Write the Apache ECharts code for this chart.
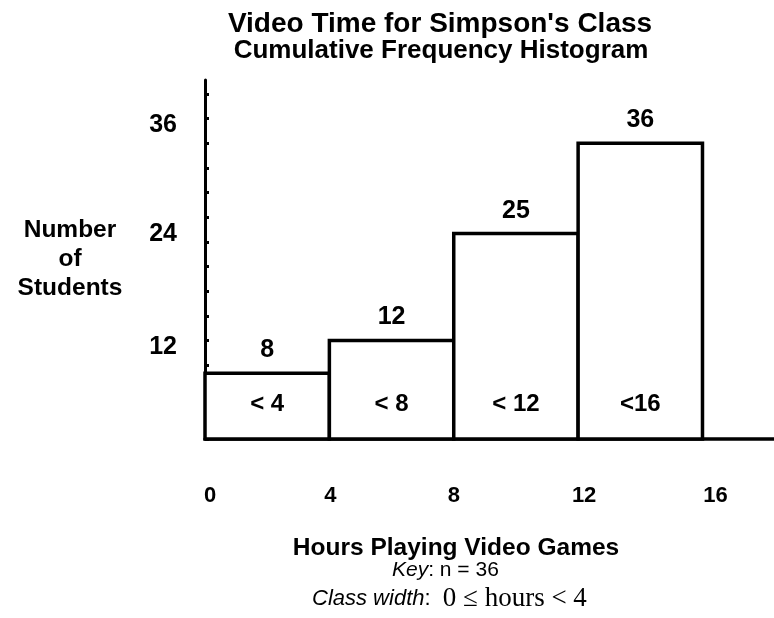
<!DOCTYPE html>
<html>
<head>
<meta charset="utf-8">
<script src="https://cdn.jsdelivr.net/npm/echarts@6/dist/echarts.min.js"></script>
<style>
html,body{margin:0;padding:0;background:#fff;}
#c{width:774px;height:618px;}
</style>
</head>
<body>
<div id="c"></div>
<script>
// ---- data ----
const classLower = [0, 4, 8, 12];
const classUpper = [4, 8, 12, 16];
const cumulative = [8, 12, 25, 36];
const classLabels = ['< 4', '< 8', '< 12', '<16'];
const yTickLabels = [12, 24, 36];
const xTickLabels = [0, 4, 8, 12, 16];

const SANS = '"Liberation Sans", Arial, sans-serif';
const SERIF = '"Liberation Serif", "Times New Roman", serif';

const chart = echarts.init(document.getElementById('c'));

const seriesData = classLower.map((lo, i) => [lo, classUpper[i], cumulative[i], classLabels[i]]);

// label nudges (px) as placed in the picture
const yLabelShift = {12: -7, 24: 8, 36: 18};   // positive = up
const xLabelShift = {0: 5, 4: 1, 8: 0, 12: 6, 16: 13}; // positive = right

const yRich = {};
yTickLabels.forEach(v => {
  const s = yLabelShift[v] || 0;
  yRich['y' + v] = {
    fontFamily: SANS, fontWeight: 'bold', fontSize: 25, color: '#000',
    padding: s >= 0 ? [0, 0, 2 * s, 0] : [-2 * s, 0, 0, 0]
  };
});
const xRich = {};
xTickLabels.forEach(v => {
  const s = xLabelShift[v] || 0;
  xRich['x' + v] = {
    fontFamily: SANS, fontWeight: 'bold', fontSize: 22, color: '#000',
    padding: s >= 0 ? [0, 0, 0, 2 * s] : [0, -2 * s, 0, 0]
  };
});

chart.setOption({
  backgroundColor: '#fff',
  animation: false,
  title: [
    {
      text: "Video Time for Simpson's Class",
      left: 435, top: 5, textAlign: 'center',
      textStyle: {fontFamily: SANS, fontWeight: 'bold', fontSize: 28, color: '#000'}
    },
    {
      text: 'Cumulative Frequency Histogram',
      left: 436, top: 33, textAlign: 'center',
      textStyle: {fontFamily: SANS, fontWeight: 'bold', fontSize: 26, color: '#000'}
    }
  ],
  grid: {left: 205, right: 0, top: 80, bottom: 179, containLabel: false},
  xAxis: {
    type: 'value',
    min: 0, max: 18.3, interval: 4,
    name: 'Hours Playing Video Games',
    nameLocation: 'middle', nameGap: 97,
    nameTextStyle: {fontFamily: SANS, fontWeight: 'bold', fontSize: 24.5, color: '#000', padding: [0, 67, 0, 0]},
    axisLine: {show: true, lineStyle: {color: '#000', width: 3.5}},
    axisTick: {show: false},
    splitLine: {show: false},
    axisLabel: {
      margin: 46, showMaxLabel: false,
      formatter: v => (xTickLabels.indexOf(v) >= 0 ? '{x' + v + '|' + v + '}' : ''),
      rich: xRich
    }
  },
  yAxis: {
    type: 'value',
    min: 0, max: 43.7, interval: 3,
    name: 'Number\nof\nStudents',
    nameLocation: 'middle', nameRotate: 0, nameGap: 135,
    nameTextStyle: {fontFamily: SANS, fontWeight: 'bold', fontSize: 24.5, color: '#000',
      align: 'center', verticalAlign: 'middle', lineHeight: 29, padding: [0, 0, 54, 0]},
    axisLine: {show: true, lineStyle: {color: '#000', width: 3}},
    axisTick: {show: true, inside: true, length: 4, lineStyle: {color: '#000', width: 3}},
    splitLine: {show: false},
    axisLabel: {
      margin: 28, showMaxLabel: false,
      formatter: v => (yTickLabels.indexOf(v) >= 0 ? '{y' + v + '|' + v + '}' : ''),
      rich: yRich
    }
  },
  series: [{
    type: 'custom',
    data: seriesData,
    encode: {x: [0, 1], y: 2},
    renderItem: function (params, api) {
      const lo = api.value(0), hi = api.value(1), v = api.value(2);
      const p0 = api.coord([lo, v]);
      const p1 = api.coord([hi, 0]);
      const cx = (p0[0] + p1[0]) / 2;
      return {
        type: 'group',
        children: [
          {
            type: 'rect',
            shape: {x: p0[0], y: p0[1], width: p1[0] - p0[0], height: p1[1] - p0[1]},
            style: {fill: '#fff', stroke: '#000', lineWidth: 3.5}
          },
          {
            type: 'text',
            style: {text: String(v), x: cx, y: p0[1] - 23, align: 'center', verticalAlign: 'middle',
              fill: '#000', fontFamily: SANS, fontWeight: 'bold', fontSize: 25}
          },
          {
            type: 'text',
            style: {text: seriesData[params.dataIndex][3], x: cx, y: p1[1] - 35, align: 'center', verticalAlign: 'middle',
              fill: '#000', fontFamily: SANS, fontWeight: 'bold', fontSize: 24}
          }
        ]
      };
    }
  }],
  graphic: [
    {
      type: 'text', left: 392, top: 560,
      style: {
        text: '{i|Key}: n = 36',
        rich: {i: {fontFamily: SANS, fontStyle: 'italic', fontSize: 21, fill: '#000'}},
        fontFamily: SANS, fontSize: 21, fill: '#000'
      }
    },
    {
      type: 'text', left: 312, top: 585,
      style: {
        text: '{i|Class width}{a|:  }{m|0 \u2264 hours < 4}',
        rich: {
          i: {fontFamily: SANS, fontStyle: 'italic', fontSize: 22, fill: '#000'},
          a: {fontFamily: SANS, fontSize: 22, fill: '#000'},
          m: {fontFamily: SERIF, fontSize: 27, fill: '#000'}
        }
      }
    }
  ]
});
</script>
</body>
</html>
